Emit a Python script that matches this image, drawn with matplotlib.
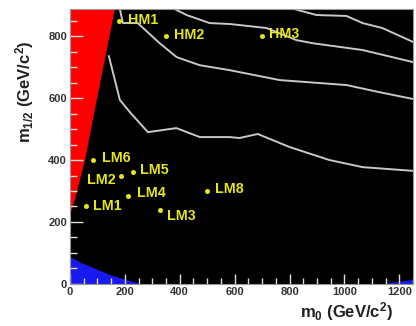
"""CMS mSUGRA plane with LM/HM benchmark points and reach contours."""

import matplotlib.pyplot as plt

# benchmark points (m0, m1/2)
point_names = ["LM1", "LM2", "LM3", "LM4", "LM5", "LM6", "LM8", "HM1", "HM2", "HM3"]
point_m0 = [60, 185, 330, 210, 230, 85, 500, 180, 350, 700]
point_m12 = [250, 350, 240, 285, 360, 400, 300, 850, 800, 800]

# theoretically excluded region (red, left)
red_m0 = [0, 18, 55, 98, 164, 0]
red_m12 = [223, 271, 400, 594, 887, 887]

# LEP excluded region (blue, bottom left) and small wedge at bottom right
blue_m0 = [0, 0, 40, 84, 156, 210, 255]
blue_m12 = [0, 88, 68, 52, 26, 12, 0]
blue2_m0 = [1145, 1250, 1250]
blue2_m12 = [0, 13, 0]

# reach contours
c1_m0 = [142, 182, 218, 284, 388, 473, 582, 618, 684, 800, 945, 1066, 1250]
c1_m12 = [735, 594, 555, 490, 503, 474, 474, 471, 484, 442, 400, 377, 365]
c2_m0 = [182, 193, 247, 327, 389, 473, 582, 764, 1007, 1127, 1250]
c2_m12 = [887, 842, 842, 777, 732, 706, 690, 658, 642, 619, 597]
c3_m0 = [382, 425, 509, 582, 716, 825, 884, 1066, 1250]
c3_m12 = [887, 868, 842, 839, 826, 787, 777, 755, 716]
c4_m0 = [818, 898, 1007, 1066, 1138, 1250]
c4_m12 = [887, 868, 865, 842, 826, 781]

plt.rcParams["font.family"] = "Liberation Sans"
plt.rcParams["mathtext.fontset"] = "custom"
plt.rcParams["mathtext.rm"] = "Liberation Sans:bold"
plt.rcParams["mathtext.it"] = "Liberation Sans:bold"
plt.rcParams["mathtext.default"] = "rm"

fig = plt.figure(figsize=(4.16, 3.26), dpi=100)
ax = fig.add_axes([0.168, 0.129, 0.825, 0.843])
ax.set_facecolor("black")

ax.fill(red_m0, red_m12, color="#ff0000", lw=0)
ax.fill(blue_m0, blue_m12, color="#1818f0", lw=0)
ax.fill(blue2_m0, blue2_m12, color="#1818f0", lw=0)

for xs, ys in [(c1_m0, c1_m12), (c2_m0, c2_m12), (c3_m0, c3_m12), (c4_m0, c4_m12)]:
    ax.plot(xs, ys, color="#c8c8c8", lw=1.4, solid_joinstyle="round")

yellow = "#e6e614"
ax.plot(point_m0, point_m12, "o", color=yellow, ms=3.6, mec="none")

offsets = {
    "LM1": (7, 0, "left"), "LM2": (-5, -4, "right"), "LM3": (7, -6, "left"),
    "LM4": (9, 3, "left"), "LM5": (7, 2, "left"), "LM6": (9, 2, "left"),
    "LM8": (8, 2, "left"), "HM1": (9, 1, "left"), "HM2": (8, 1, "left"),
    "HM3": (7, 2, "left"),
}
for name, x, y in zip(point_names, point_m0, point_m12):
    dx, dy, ha = offsets[name]
    ax.annotate(name, (x, y), xytext=(dx, dy), textcoords="offset pixels",
                ha=ha, va="center", color=yellow, fontsize=10.3, fontweight="bold")

ax.set_xlim(0, 1250)
ax.set_ylim(0, 887)
ax.set_xticks(range(0, 1201, 200))
ax.set_xticks(range(0, 1251, 50), minor=True)
ax.set_yticks(range(0, 801, 200))
ax.set_yticks(range(0, 887, 50), minor=True)
ax.tick_params(axis="both", which="both", direction="in", color="#dddddd",
               labelsize=8, labelcolor="#333333")
ax.tick_params(axis="x", which="major", length=7, width=1, pad=2)
ax.tick_params(axis="x", which="minor", length=4, width=1)
ax.tick_params(axis="y", which="major", length=9, width=1, pad=2)
ax.tick_params(axis="y", which="minor", length=5, width=1)
for lab in ax.get_xticklabels() + ax.get_yticklabels():
    lab.set_fontweight("bold")
for spine in ax.spines.values():
    spine.set_color("#999999")

fig.text(393 / 416, 1 - 312 / 326, r"m$_0$ (GeV/c$^2$)", ha="right", va="center",
         fontsize=12, fontweight="bold", color="#222222")
fig.text(25 / 416, 1 - 92 / 326, r"m$_{1/2}$ (GeV/c$^2$)", ha="center", va="center",
         rotation=90, fontsize=12, fontweight="bold", color="#222222")

fig.savefig("out.png", dpi=100)
